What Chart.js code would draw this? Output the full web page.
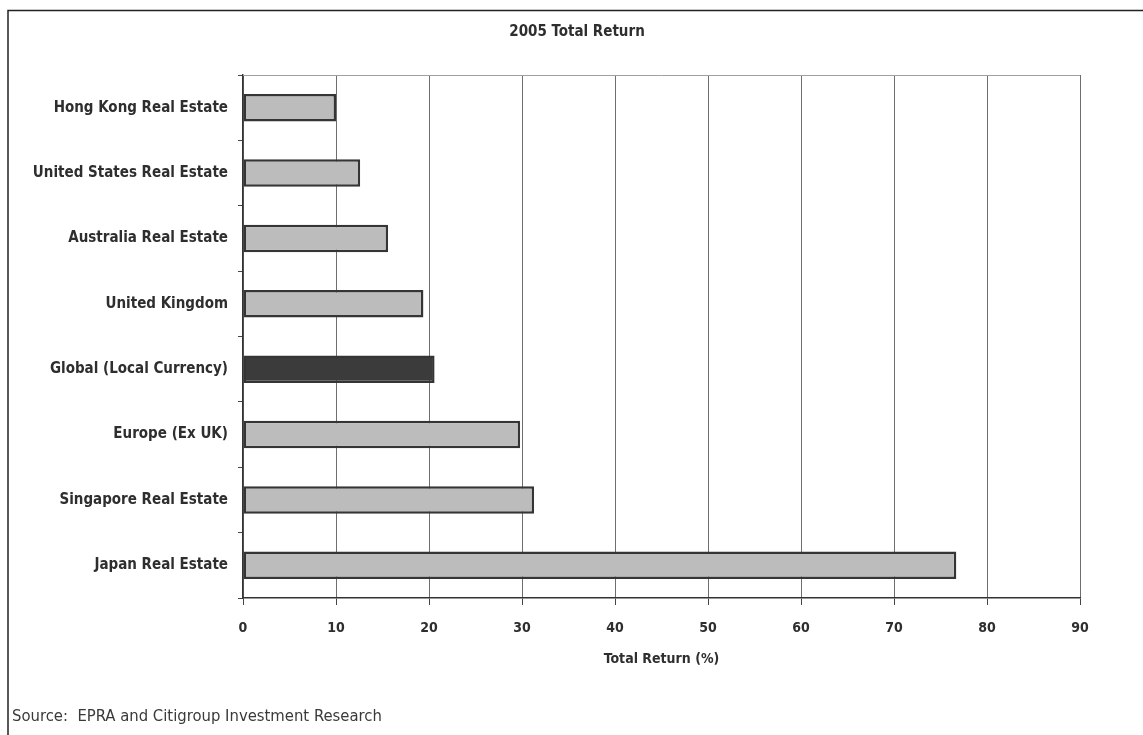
<!DOCTYPE html>
<html>
<head>
<meta charset="utf-8">
<title>2005 Total Return</title>
<script src="https://cdn.jsdelivr.net/npm/chart.js@4/dist/chart.umd.min.js"></script>
<style>
  html, body { margin: 0; padding: 0; background: #ffffff; }
  #wrap { position: relative; width: 1143px; height: 735px; }
</style>
</head>
<body>
<div id="wrap"><canvas id="c" width="1143" height="735"></canvas></div>
<script>
// Markets, top to bottom
const categories = [
  'Hong Kong Real Estate',
  'United States Real Estate',
  'Australia Real Estate',
  'United Kingdom',
  'Global (Local Currency)',
  'Europe (Ex UK)',
  'Singapore Real Estate',
  'Japan Real Estate'
];
// 2005 total return, %
const totalReturn = [10.0, 12.6, 15.6, 19.4, 20.6, 29.8, 31.3, 76.7];
const xTicks = [0, 10, 20, 30, 40, 50, 60, 70, 80, 90];
const chartTitle = '2005 Total Return';
const axisTitle = 'Total Return (%)';
const sourceNote = 'Source:  EPRA and Citigroup Investment Research';

const LABEL_FONT = "'Liberation Sans Narrow', 'DejaVu Sans Condensed', 'Liberation Sans', sans-serif";
const INK = '#2e2e2e';

// The benchmark bar is shaded dark, markets light grey
const fills = categories.map(c => c.startsWith('Global') ? '#3b3b3b' : '#bcbcbc');

// Page frame, plot top rule, title and source note
const decorations = {
  id: 'decorations',
  beforeDraw(chart) {
    const ctx = chart.ctx;
    ctx.save();
    ctx.fillStyle = '#ffffff';
    ctx.fillRect(0, 0, chart.width, chart.height);
    ctx.restore();
  },
  afterDraw(chart) {
    const ctx = chart.ctx;
    const a = chart.chartArea;
    ctx.save();
    // frame
    ctx.strokeStyle = '#222';
    ctx.lineWidth = 1.5;
    ctx.beginPath();
    ctx.moveTo(8, chart.height);
    ctx.lineTo(8, 10.5);
    ctx.lineTo(chart.width, 10.5);
    ctx.stroke();
    // plot top rule
    ctx.strokeStyle = '#a0a0a0';
    ctx.lineWidth = 1;
    ctx.beginPath();
    ctx.moveTo(a.left, a.top + 0.5);
    ctx.lineTo(a.right, a.top + 0.5);
    ctx.stroke();
    // title
    ctx.fillStyle = INK;
    ctx.textAlign = 'center';
    ctx.textBaseline = 'middle';
    ctx.font = "bold 15px " + LABEL_FONT;
    ctx.fillText(chartTitle, 577, 32);
    // source
    ctx.textAlign = 'left';
    ctx.fillStyle = '#3a3a3a';
    ctx.font = "16.5px " + LABEL_FONT;
    ctx.fillText(sourceNote, 12, 717);
    ctx.restore();
  }
};

new Chart(document.getElementById('c'), {
  type: 'bar',
  data: {
    labels: categories,
    datasets: [{
      data: totalReturn,
      backgroundColor: fills,
      borderColor: '#353535',
      borderWidth: 2.5,
      borderSkipped: false,
      categoryPercentage: 1.0,
      barPercentage: 0.42
    }]
  },
  options: {
    indexAxis: 'y',
    responsive: false,
    animation: false,
    devicePixelRatio: 1,
    layout: { padding: { top: 75, right: 63, bottom: 67, left: 0 } },
    plugins: {
      legend: { display: false },
      tooltip: { enabled: false },
      title: { display: false }
    },
    scales: {
      x: {
        min: 0,
        max: 90,
        afterBuildTicks(scale) { scale.ticks = xTicks.map(v => ({ value: v })); },
        afterFit(scale) { scale.height = 70; },
        grid: { color: '#6e6e6e', lineWidth: 1, tickLength: 7, tickColor: '#444' },
        border: { color: '#333', width: 1.5 },
        ticks: { color: INK, font: { family: LABEL_FONT, size: 14, weight: 'bold' }, padding: 15, maxRotation: 0 },
        title: { display: true, text: axisTitle, color: INK, font: { family: LABEL_FONT, size: 14, weight: 'bold' }, padding: { top: 0, bottom: 0 } }
      },
      y: {
        afterFit(scale) { scale.width = 243; },
        grid: { drawOnChartArea: false, tickLength: 5, tickColor: '#444', offset: true },
        border: { color: '#333', width: 1.5 },
        ticks: { color: INK, font: { family: LABEL_FONT, size: 15, weight: 'bold' }, padding: 10 }
      }
    }
  },
  plugins: [decorations]
});
</script>
</body>
</html>
